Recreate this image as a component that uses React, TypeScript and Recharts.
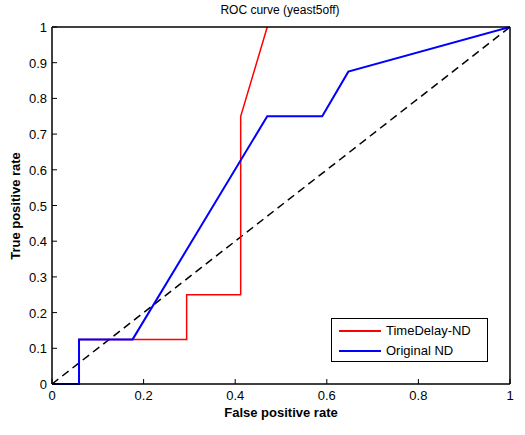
import { LineChart, Line, XAxis, YAxis } from "recharts";

const timeDelayX = [0, 0.059, 0.059, 0.176, 0.294, 0.294, 0.412, 0.412, 0.47];
const timeDelayY = [0, 0, 0.125, 0.125, 0.125, 0.25, 0.25, 0.75, 1];
const originalX = [0, 0.059, 0.059, 0.176, 0.47, 0.59, 0.647, 1];
const originalY = [0, 0, 0.125, 0.125, 0.75, 0.75, 0.875, 1];
const chanceX = [0, 1];
const chanceY = [0, 1];
const xTicks = [0, 0.2, 0.4, 0.6, 0.8, 1];
const yTicks = [0, 0.1, 0.2, 0.3, 0.4, 0.5, 0.6, 0.7, 0.8, 0.9, 1];

const zip = (xs: number[], ys: number[]) => xs.map((x, i) => ({ x, y: ys[i] }));

const font = "Arial, 'Liberation Sans', sans-serif";

const BottomTick = (props: any) => {
  const { x, y, payload } = props;
  return (
    <g>
      <line x1={x} y1={y} x2={x} y2={y - 5} stroke="#000" />
      <text x={x} y={y + 16} textAnchor="middle" fontSize={13} fill="#000" fontFamily={font}>
        {payload.value}
      </text>
    </g>
  );
};
const TopTick = (props: any) => {
  const { x, y } = props;
  return <line x1={x} y1={y} x2={x} y2={y + 5} stroke="#000" />;
};
const LeftTick = (props: any) => {
  const { x, y, payload } = props;
  return (
    <g>
      <line x1={x} y1={y} x2={x + 5} y2={y} stroke="#000" />
      <text x={x - 5} y={y + 5} textAnchor="end" fontSize={13} fill="#000" fontFamily={font}>
        {payload.value}
      </text>
    </g>
  );
};
const RightTick = (props: any) => {
  const { x, y } = props;
  return <line x1={x} y1={y} x2={x - 5} y2={y} stroke="#000" />;
};

const legendItems = [
  { name: "TimeDelay-ND", color: "#ff0000" },
  { name: "Original ND", color: "#0000ff" },
];

export default function App() {
  return (
    <div style={{ position: "absolute", left: 0, top: 0, width: 525, height: 435, background: "#fff", fontFamily: font }}>
      <div style={{ position: "absolute", top: 3, left: 0, width: 560, textAlign: "center", fontSize: 12 }}>
        ROC curve (yeast5off)
      </div>
      <div style={{ position: "absolute", top: 405, left: 52, width: 458, textAlign: "center", fontSize: 13, fontWeight: "bold" }}>
        False positive rate
      </div>
      <div style={{ position: "absolute", left: 15, top: 206, transform: "translate(-50%,-50%) rotate(-90deg)", fontSize: 13, fontWeight: "bold", whiteSpace: "nowrap" }}>
        True positive rate
      </div>
      <LineChart width={525} height={435} margin={{ top: 26, right: 14, left: 51, bottom: 50 }}>
        <XAxis xAxisId="b" type="number" dataKey="x" domain={[0, 1]} ticks={xTicks} tick={BottomTick} tickSize={0} tickMargin={0} height={1} stroke="#000" strokeWidth={1.5} />
        <XAxis xAxisId="t" orientation="top" type="number" dataKey="x" domain={[0, 1]} ticks={xTicks} tick={TopTick} tickSize={0} tickMargin={0} height={1} stroke="#000" strokeWidth={1.5} />
        <YAxis yAxisId="l" type="number" domain={[0, 1]} ticks={yTicks} tick={LeftTick} tickSize={0} tickMargin={0} width={1} stroke="#000" strokeWidth={1.5} />
        <YAxis yAxisId="r" orientation="right" type="number" domain={[0, 1]} ticks={yTicks} tick={RightTick} tickSize={0} tickMargin={0} width={1} stroke="#000" strokeWidth={1.5} />
        <Line xAxisId="b" yAxisId="l" data={zip(chanceX, chanceY)} dataKey="y" stroke="#000" strokeWidth={1.5} strokeDasharray="8 5" dot={false} isAnimationActive={false} />
        <Line xAxisId="b" yAxisId="l" data={zip(timeDelayX, timeDelayY)} dataKey="y" stroke="#ff0000" strokeWidth={1.5} dot={false} isAnimationActive={false} />
        <Line xAxisId="b" yAxisId="l" data={zip(originalX, originalY)} dataKey="y" stroke="#0000ff" strokeWidth={2} dot={false} isAnimationActive={false} />
      </LineChart>
      <div style={{ position: "absolute", left: 331, top: 318, width: 157, height: 44, border: "1.5px solid #000", background: "#fff", fontSize: 13, boxSizing: "border-box" }}>
        {legendItems.map((item, i) => (
          <div key={item.name} style={{ position: "absolute", left: 7, top: 4 + i * 20, display: "flex", alignItems: "center" }}>
            <div style={{ width: 42, height: 2, background: item.color, marginRight: 5 }} />
            {item.name}
          </div>
        ))}
      </div>
    </div>
  );
}
